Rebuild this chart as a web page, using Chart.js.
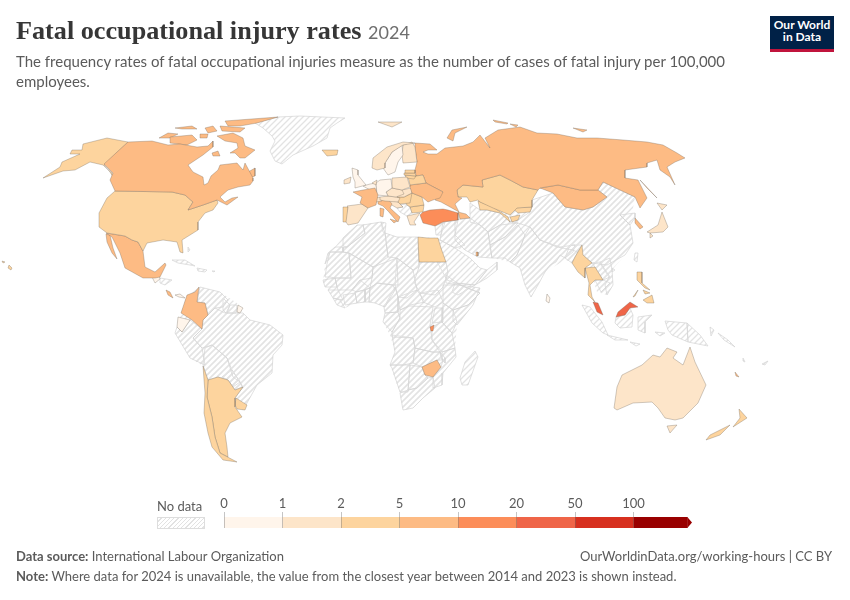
<!DOCTYPE html>
<html>
<head>
<meta charset="utf-8">
<title>Fatal occupational injury rates</title>
<script src="https://cdn.jsdelivr.net/npm/chart.js@4"></script>
<style>
  html, body { margin: 0; padding: 0; background: #fff; }
  #page { position: relative; width: 850px; height: 600px; overflow: hidden; font-family: Lato, sans-serif; color: #5b5b5b; }
  #page > div { position: absolute; white-space: nowrap; }
  #page canvas { position: absolute; }
  #title { left: 16px; top: 14px; font: bold 26.2px "Liberation Serif", serif; color: #363636; line-height: 34px; }
  #title span { font: normal 18px Lato, sans-serif; color: #6e6e6e; }
  #subtitle { left: 16px; top: 51px; font-size: 15px; line-height: 20px; }
  #logo { left: 770px; top: 16px; width: 64px; height: 30px; padding-top: 3px; background: #002147; border-bottom: 3px solid #c0143c; color: #fff; font-weight: 700; font-size: 12px; line-height: 12px; text-align: center; }
  #noDataLabel { left: 157px; top: 498px; font-size: 13px; }
  #noDataSwatch { left: 157px; top: 517px; width: 46px; height: 10px; border: 1px solid #ddd;
    background: repeating-linear-gradient(135deg, #fff 0 2px, #e2e2e2 2px 3px); }
  #source { left: 16px; top: 548px; font-size: 13px; }
  #link { right: 18px; top: 548px; font-size: 13px; }
  #note { left: 16px; top: 568px; font-size: 13px; }
</style>
</head>
<body>
<div id="page">
  <canvas id="map" width="850" height="600" style="left:0;top:0"></canvas>
  <canvas id="scale" width="490" height="44" style="left:214px;top:490px"></canvas>
  <div id="title">Fatal occupational injury rates <span>2024</span></div>
  <div id="subtitle">The frequency rates of fatal occupational injuries measure as the number of cases of fatal injury per 100,000<br>employees.</div>
  <div id="logo">Our World<br>in Data</div>
  <div id="noDataLabel">No data</div>
  <div id="noDataSwatch"></div>
  <div id="source"><b>Data source:</b> International Labour Organization</div>
  <div id="link">OurWorldinData.org/working-hours | CC BY</div>
  <div id="note"><b>Note:</b> Where data for 2024 is unavailable, the value from the closest year between 2014 and 2023 is shown instead.</div>
</div>
<script>
// binned colour scale
const binLabels = ['0', '1', '2', '5', '10', '20', '50', '100'];
const binEdges = [0, 1, 2, 5, 10, 20, 50, 100];
const binColors = ['#fff5eb', '#fde5c9', '#fdd49e', '#fdbb84', '#fc8d59', '#ef6548', '#d7301f', '#990000'];

// countries with data, rates
const countries = ['Canada', 'United States', 'Mexico', 'Iceland', 'Guatemala', 'Costa Rica', 'Panama', 'Colombia', 'Ecuador', 'French Guiana',
  'Chile', 'Argentina', 'Uruguay', 'France', 'Spain', 'Portugal', 'United Kingdom', 'Ireland', 'Norway', 'Sweden',
  'Finland', 'Denmark', 'Germany', 'Netherlands', 'Poland', 'Estonia', 'Latvia', 'Lithuania', 'Belarus', 'Ukraine',
  'Czechia', 'Slovakia', 'Austria', 'Hungary', 'Switzerland', 'Italy', 'Romania', 'Bulgaria', 'Greece', 'Croatia',
  'Turkey', 'Russia', 'Kazakhstan', 'Mongolia', 'Uzbekistan', 'Kyrgyzstan', 'Tajikistan', 'Georgia', 'Egypt', 'Zimbabwe',
  'Rwanda', 'Japan', 'South Korea', 'Myanmar', 'Thailand', 'Malaysia', 'Philippines', 'Australia', 'New Zealand', 'New Caledonia',
  'Qatar', 'Sri Lanka'];
const rates = [6, 3.5, 7, 3, 0.7, 8, 0.8, 7, 0.9, 0.6,
  3.5, 3.8, 3, 6, 1.7, 3.5, 0.6, 1.6, 1.4, 0.8,
  1.2, 1, 0.7, 0.6, 1.6, 3, 3, 3, 3, 6,
  1.7, 1.6, 1.5, 2.2, 1.3, 5, 3.5, 3.5, 1.5, 1.8,
  12, 7, 4, 7, 4, 3, 3, 6, 3, 7,
  12, 1.5, 5.5, 4, 4, 25, 3.5, 1.5, 4.5, 6,
  6, 0.9];

// outlines in map units, one list of rings per country
const outlines = [
  [[128,142,152,141,168,145,180,144,197,147,208,146,213,141,213,147,203,155,188,165,193,172,203,177,204,185,208,183,211,176,218,170,220,165,237,163,243,170,245,163,253,178,253,181,250,185,238,187,228,190,220,197,225,202,232,198,238,197,227,205,217,200,203,205,188,210,193,202,185,195,172,192,115,191,110,180,113,173,104,164],
   [217,136,233,133,243,138,245,146,255,150,245,158,240,158,235,153,230,153,238,148,237,143,225,141],
   [170,137,192,135,197,140,187,145,170,143],
   [159,138,168,133,178,134,170,138],
   [225,121,278,117,257,123,240,126,228,126],
   [220,126,245,128,240,132,222,131],
   [175,128,192,126,197,129,182,129],
   [205,128,213,126,217,131,208,133],
   [200,134,208,134,207,138,200,138],
   [212,153,218,151,220,156,213,156],
   [243,175,255,168,255,176,245,180]],
  [[115,191,172,192,185,195,193,202,188,210,203,205,217,200,218,203,213,210,205,213,198,222,198,230,182,240,183,253,180,252,177,242,163,240,147,243,143,251,138,242,132,240,125,236,107,233,99,227,99,213,107,198],
   [128,142,107,138,83,144,82,150,72,150,70,154,80,154,62,162,60,167,43,178,63,171,75,170,90,162,103,165,112,173,113,177,110,172,104,165],
   [9,265,12,268,11,270,8,268],
   [2,261,5,262,3,263]],
  [[106,233,125,236,132,240,138,242,143,251,145,267,155,272,165,263,166,265,160,277,155,278,143,278,125,268,120,253,112,237],
   [106,234,110,235,113,248,117,259,112,253,107,242]],
  [[322,150,338,150,337,155,327,156]],
  [[152,277,158,272,160,279,155,283]],
  [[166,290,170,292,173,298,168,295]],
  [[175,295,180,294,185,298,179,297]],
  [[199,287,195,292,187,295,181,313,192,320,202,329,203,320,208,315,205,303,197,302]],
  [[178,317,190,320,182,332,177,327]],
  [[238,305,243,308,240,313,237,312]],
  [[203,366,208,380,207,397,212,417,215,437,220,453,237,462,223,460,212,447,208,433,204,413,205,393]],
  [[208,380,218,377,228,380,235,390,243,387,235,398,235,407,242,417,230,423,225,433,227,447,228,457,220,453,215,437,212,417,207,397]],
  [[236,398,247,405,245,410,237,409,235,405]],
  [[353,192,363,190,375,188,378,195,376,205,368,208,360,203,362,197]],
  [[347,206,362,204,368,208,358,223,348,225,346,222,348,207]],
  [[343,207,348,207,347,222,343,222]],
  [[352,168,358,170,358,175,366,185,355,188,355,182,353,177]],
  [[344,180,351,177,350,183,344,184]],
  [[372,168,373,158,387,147,403,142,415,143,403,145,392,152,385,163,385,168,377,170],
   [378,122,402,122,392,127]],
  [[392,152,402,145,403,155,398,162,395,172,388,175,383,168,385,163]],
  [[403,145,412,142,415,147,417,162,403,163,402,155]],
  [[372,183,377,180,376,185]],
  [[376,183,380,180,391,179,392,188,386,192,388,196,377,195]],
  [[363,186,370,184,376,183,377,195,370,190]],
  [[392,178,407,177,410,187,402,190,392,188]],
  [[405,170,415,170,415,173,405,173]],
  [[404,173,415,173,416,176,404,175]],
  [[405,175,416,176,414,179,406,178]],
  [[408,177,416,176,423,175,426,183,410,185]],
  [[410,185,426,183,443,192,440,198,433,200,428,202,422,197,412,193,410,187]],
  [[386,192,392,188,402,190,404,194,396,197,388,196]],
  [[402,190,411,188,412,193,404,197,397,197]],
  [[380,197,388,196,396,197,400,198,398,202,385,201,380,200]],
  [[397,197,404,197,412,193,410,203,400,204,398,202]],
  [[374,198,380,197,382,201,376,202]],
  [[378,200,388,199,392,204,390,208,400,217,398,222,394,218,388,211,383,206,378,204],
   [390,219,397,221,394,223],
   [380,208,384,209,383,217,380,216]],
  [[410,193,412,193,422,197,424,205,410,207,407,205,403,199]],
  [[410,207,424,205,423,212,412,213]],
  [[407,216,420,213,414,222,416,225,410,225]],
  [[388,199,398,202,403,207,397,208,390,204]],
  [[420,215,423,212,430,210,443,209,448,210,458,213,458,220,443,222,435,226,423,223]],
  [[415,143,430,144,437,150,428,150,423,152,428,154,437,154,445,148,463,146,473,142,480,135,490,148,485,138,498,130,520,127,537,133,557,134,577,138,597,138,623,140,647,142,663,145,677,153,685,158,675,162,667,167,675,185,670,177,660,170,657,160,647,163,647,167,625,170,625,178,638,180,647,198,640,208,635,197,620,190,603,182,598,190,580,190,558,185,540,188,538,190,523,187,510,180,500,175,482,180,483,187,463,185,457,190,458,197,462,198,455,204,459,212,441,202,435,200,443,192,426,183,423,175,416,176,415,170,417,162,415,147],
   [447,138,452,130,467,127,455,133,453,141],
   [493,120,508,123,507,124,495,122],
   [510,124,518,125,516,127],
   [573,128,587,130,583,132],
   [640,180,657,198,647,188]],
  [[457,190,463,185,483,187,482,180,500,175,510,180,523,187,538,190,532,200,532,207,517,208,510,215,493,208,480,202,478,200,470,202,467,197,458,197]],
  [[540,188,558,185,580,190,598,190,607,197,593,207,583,210,565,207,553,193]],
  [[478,201,493,207,508,217,510,222,500,213,487,210,480,210]],
  [[512,208,532,207,530,212,518,213]],
  [[510,217,520,215,518,220,512,222]],
  [[458,212,466,214,470,218,460,219]],
  [[418,237,428,238,438,238,441,248,446,262,419,262]],
  [[422,367,437,360,441,367,433,377,425,375]],
  [[430,327,434,325,433,331,431,331]],
  [[657,203,667,205,662,210],
   [662,212,668,227,663,232,650,233,647,232,658,225],
   [650,233,653,236,650,238]],
  [[635,218,643,227,640,229,635,223]],
  [[582,245,583,255,592,263,585,268,585,278,578,272,572,263,575,257]],
  [[585,268,595,267,603,280,595,280,590,285,592,297,595,302,588,295,589,283]],
  [[593,302,598,303,603,315,597,312],
   [630,302,638,307,630,308,625,315,616,317,618,312]],
  [[637,272,642,272,642,283,650,290,645,288,637,280],
   [643,300,652,295,654,303,647,303],
   [643,290,650,293,645,294],
   [633,297,638,290,635,296]],
  [[690,347,695,362,706,385,698,403,683,418,675,420,665,418,658,408,652,402,633,403,617,410,614,408,617,387,622,375,642,365,653,355,660,357,667,348,677,352,673,358,683,365],
   [667,426,677,425,670,433]],
  [[739,409,747,418,733,427,740,418],
   [730,425,720,435,706,440,710,435]],
  [[735,372,739,377,736,376]],
  [[476,252,478,252,478,256,476,256]],
  [[547,294,550,298,549,303,546,301]]
];

// countries with no data, hatched on the map
const noDataOutlines = [
  [255,123,278,117,300,116,345,118,337,123,330,128,327,138,313,146,293,155,282,164,275,161,270,151,275,141,272,136,263,128],
  [160,278,172,280,165,285,160,283],
  [172,260,185,260,195,266,190,265,178,263], [197,268,207,270,205,272,198,271], [188,247,190,250,188,252], [212,271,215,271,214,272],
  [200,287,220,292,228,300,223,307,215,308,208,315,205,303,197,302],
  [223,298,230,305,226,313,223,310], [230,305,237,305,236,313,227,313],
  [208,315,215,308,225,313,243,313,250,320,270,325,283,335,282,345,273,355,272,373,257,385,247,403,243,410,235,398,243,387,240,382,233,377,227,358,212,345,202,348,193,338,202,329,203,320],
  [177,327,182,332,190,320,202,329,193,338,202,348,205,365,190,358,175,333],
  [205,348,212,345,227,358,232,370,240,382,233,387,228,380,218,377,208,380,203,365],
  [222,377,232,370,240,382,242,387,235,390,228,380],
  [357,225,363,225,365,233,347,247,343,246,343,238],
  [335,247,343,247,343,252,330,252,325,264,328,253],
  [330,252,343,252,349,253,351,278,335,278,330,277,325,277,327,264],
  [363,225,381,222,385,233,388,257,373,267,349,253,343,252,343,248,347,247,365,233],
  [381,222,386,223,385,233,383,232],
  [385,233,397,237,418,237,419,267,413,270,397,258,388,257],
  [349,253,373,267,372,278,360,280,352,290,338,290,335,278,351,278],
  [373,267,397,258,398,285,393,285,377,283,370,288,372,278],
  [397,258,413,270,417,290,407,298,398,297,395,285],
  [419,262,446,262,448,273,443,287,435,295,420,293,414,282,419,267],
  [420,293,438,290,443,302,435,307,423,302],
  [443,285,460,285,480,293,468,305,453,310,443,303],
  [446,275,460,285,446,283],
  [460,285,480,288,473,305,457,325,453,321,453,310,468,305,480,293],
  [323,280,335,278,337,287,325,287],
  [328,290,338,290,343,300,333,298],
  [333,298,340,300,345,308,337,305],
  [343,295,355,293,357,303,345,305],
  [355,292,365,290,365,302,357,303],
  [352,290,360,280,370,288,357,292],
  [370,288,377,283,393,285,395,290,385,307,375,303,369,302],
  [365,290,370,288,369,302,365,302],
  [395,287,398,297,398,312,385,313,384,307],
  [398,297,417,290,425,302,410,305,400,310],
  [385,313,398,312,400,318,392,332,383,322],
  [400,310,410,306,433,307,430,325,432,340,440,352,432,352,415,348,413,338,392,337,392,332,400,318],
  [435,308,443,308,442,322,432,323],
  [443,303,453,310,457,322,452,333,442,322,443,308],
  [432,327,442,322,452,333,455,348,442,352,432,340],
  [392,335,413,338,415,348,413,363,403,365,390,365,395,352],
  [415,348,432,352,440,352,443,360,437,360,422,367,413,363],
  [440,352,445,358,445,363,441,358],
  [442,352,455,348,456,357,443,373,442,385,433,388,433,377,441,367,443,360],
  [390,365,410,365,408,392,400,392,392,368],
  [410,365,422,367,425,375,428,378,417,388,408,390],
  [400,393,408,390,417,388,428,378,433,377,435,388,423,398,413,408,403,410],
  [475,351,478,357,468,385,462,385,460,378,465,362],
  [400,204,407,205,410,207,412,213,407,216,400,212,397,208,403,207],
  [532,200,553,193,565,207,583,210,593,207,607,197,598,190,603,182,620,190,635,197,628,205,620,215,630,225,633,243,625,255,607,265,592,263,583,255,573,250,557,247,540,240,530,227,518,223,510,222,518,220,530,212,532,207],
  [620,215,635,213,635,218,630,225],
  [530,227,540,240,560,247,575,245,573,252,565,258,560,255,556,262,550,265,545,272,538,285,531,297,525,285,520,268,510,262,517,255,522,243,525,235],
  [510,262,517,255,522,243,525,235,518,225,505,237,490,245,492,258,505,258],
  [518,223,500,225,488,232,490,245,505,237],
  [455,220,470,218,480,225,488,232,490,245,492,258,478,257,465,250,455,240],
  [470,203,480,210,487,210,500,213,508,217,500,225,488,232,480,225,470,222],
  [443,222,458,220,455,235,465,245,455,248,440,240],
  [435,226,445,222,441,235,436,235],
  [435,240,440,240,455,248,470,258,480,268,487,270,475,285,455,283,447,280,435,258],
  [455,283,475,285,458,295,452,292],
  [487,270,497,262,497,270,487,278,475,285],
  [592,263,600,262,610,277,603,280,595,267],
  [595,280,603,280,610,283,601,292],
  [600,262,610,258,612,270,613,285,607,295,605,285,609,277,601,265],
  [616,317,625,315,630,308,633,315,632,327,620,328,615,323],
  [582,305,590,307,602,322,608,335,603,333,592,323],
  [607,335,628,340,615,340],
  [638,317,652,315,645,322,645,333,638,330],
  [665,321,687,323,688,342,672,335,668,330],
  [687,323,700,335,708,346,688,342],
  [635,253,638,253,637,262,634,260],
  [612,268,615,270,612,272],
  [630,342,640,344,636,346], [655,332,665,333,660,336],
  [710,327,714,330,711,336], [718,333,728,340,735,347,724,340], [743,358,745,362,743,361], [762,364,768,361,765,365],
  [570,245,582,245,575,257,572,263,565,258]
];

// land under the country borders, so no white slivers stay between the rough shapes
const landOutlines = [
  [357,225,381,222,386,223,385,233,397,237,418,237,438,238,441,248,446,262,452,273,460,283,480,289,473,305,457,325,455,348,456,357,443,373,442,385,435,388,423,398,413,408,403,410,400,393,390,365,395,352,390,335,383,322,385,313,384,307,375,303,365,302,357,303,345,308,338,302,330,293,323,282,325,264,335,247,343,237],
  [200,287,220,292,237,303,243,313,250,320,270,325,283,335,282,345,273,355,272,373,257,385,247,403,243,410,235,398,208,380,203,366,190,358,175,333,177,327,181,313,187,295],
  [443,222,460,220,470,222,478,222,490,212,532,207,553,193,603,182,635,197,630,225,633,243,625,255,612,270,613,285,607,295,597,292,590,270,573,262,565,260,545,272,531,297,520,268,510,262,492,258,478,257,465,250,455,248,440,240]
];

function toPoints(ring) {
  const pts = [];
  for (let i = 0; i < ring.length; i += 2) {
    pts.push({ x: ring[i], y: ring[i + 1] });
  }
  pts.push({ x: ring[0], y: ring[1] });
  return pts;
}

function colorFor(rate) {
  let i = binEdges.length - 1;
  while (i > 0 && rate < binEdges[i]) i--;
  return binColors[i];
}

function hatchPattern() {
  const c = document.createElement('canvas');
  c.width = 6; c.height = 6;
  const g = c.getContext('2d');
  g.strokeStyle = '#e3e3e3';
  g.lineWidth = 1.3;
  g.beginPath();
  g.moveTo(-1, 7); g.lineTo(7, -1);
  g.moveTo(-1, 1); g.lineTo(1, -1);
  g.moveTo(5, 7); g.lineTo(7, 5);
  g.stroke();
  return g.createPattern(c, 'repeat');
}

const hatch = hatchPattern();
const datasets = [];

outlines.forEach((rings, i) => {
  rings.forEach(ring => {
    datasets.push({
      label: countries[i],
      data: toPoints(ring),
      backgroundColor: colorFor(rates[i]),
      borderColor: 'rgba(110,100,90,0.55)',
      borderWidth: 0.6,
      fill: 'shape'
    });
  });
});
noDataOutlines.forEach(ring => {
  datasets.push({
    label: 'No data',
    data: toPoints(ring),
    backgroundColor: hatch,
    borderColor: '#d4d4d4',
    borderWidth: 0.7,
    fill: 'shape'
  });
});
landOutlines.forEach(ring => {
  datasets.push({
    label: 'Land',
    data: toPoints(ring),
    backgroundColor: hatch,
    borderWidth: 0,
    fill: 'shape'
  });
});

new Chart(document.getElementById('map'), {
  type: 'scatter',
  data: { datasets: datasets },
  options: {
    responsive: false,
    animation: false,
    showLine: true,
    tension: 0,
    layout: { padding: 0 },
    elements: { point: { radius: 0, hoverRadius: 0 } },
    plugins: { legend: { display: false }, tooltip: { enabled: false } },
    events: [],
    scales: {
      x: { type: 'linear', min: 0, max: 850, display: false },
      y: { type: 'linear', min: 0, max: 600, reverse: true, display: false }
    }
  }
});

// Arrow tip on the last bin
const arrowBody = 0.92;
const arrowTip = {
  id: 'arrowTip',
  afterDatasetsDraw(chart) {
    const { ctx, scales: { x, y } } = chart;
    const last = binColors.length - 1;
    ctx.save();
    ctx.fillStyle = binColors[last];
    ctx.beginPath();
    ctx.moveTo(x.getPixelForValue(last + arrowBody), y.top);
    ctx.lineTo(x.getPixelForValue(last + 1), (y.top + y.bottom) / 2);
    ctx.lineTo(x.getPixelForValue(last + arrowBody), y.bottom);
    ctx.closePath();
    ctx.fill();
    ctx.restore();
  }
};

new Chart(document.getElementById('scale'), {
  type: 'bar',
  data: {
    labels: ['Rate'],
    datasets: binColors.map((color, i) => ({
      data: [i === binColors.length - 1 ? arrowBody : 1],
      backgroundColor: color,
      borderWidth: 0,
      stack: 'bins',
      barPercentage: 1,
      categoryPercentage: 1
    }))
  },
  options: {
    indexAxis: 'y',
    responsive: false,
    animation: false,
    layout: { padding: { left: 10, right: 12, top: 6, bottom: 6 } },
    plugins: { legend: { display: false }, tooltip: { enabled: false } },
    events: [],
    scales: {
      x: {
        type: 'linear',
        position: 'top',
        min: 0,
        max: binColors.length,
        stacked: true,
        afterFit: s => { s.height = 21; },
        border: { display: false },
        grid: {
          color: c => c.tick && c.tick.value === binColors.length ? 'transparent' : 'rgba(90,90,90,0.35)',
          lineWidth: 1,
          z: 1,
          tickLength: 5
        },
        ticks: {
          stepSize: 1,
          padding: 0,
          maxRotation: 0,
          autoSkip: false,
          color: '#5b5b5b',
          font: { family: 'Lato', size: 13 },
          callback: v => binLabels[v] !== undefined ? binLabels[v] : ''
        }
      },
      y: { stacked: true, display: false }
    }
  },
  plugins: [arrowTip]
});
</script>
</body>
</html>
